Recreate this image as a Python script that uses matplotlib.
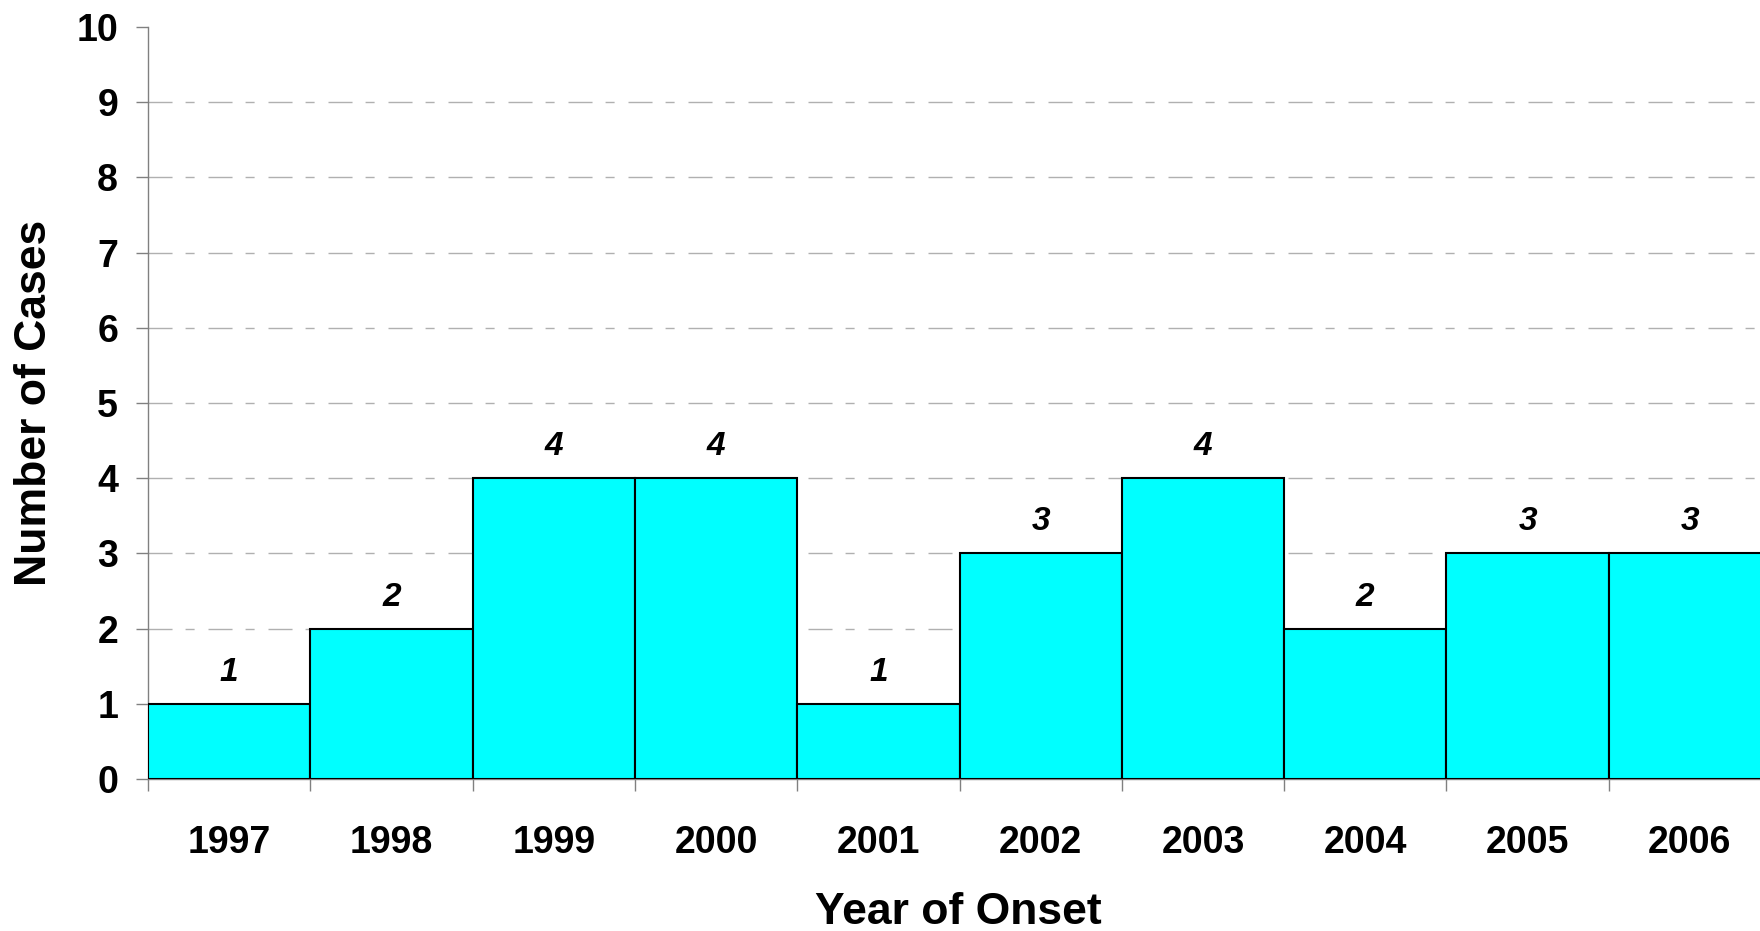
import matplotlib
matplotlib.use("Agg")
import matplotlib.pyplot as plt
import numpy as np

years = ["1997", "1998", "1999", "2000", "2001", "2002", "2003", "2004", "2005", "2006"]
cases = [1, 2, 4, 4, 1, 3, 4, 2, 3, 3]

plt.rcParams['font.family'] = ['Liberation Sans', 'DejaVu Sans']
plt.rcParams['lines.scale_dashes'] = False

fig = plt.figure(figsize=(17.6, 9.31), dpi=100)
ax = fig.add_axes([148/1760, 1 - 779/931, (1771-148)/1760, (779-27)/931])

x = np.arange(len(years))
ax.bar(x, cases, width=1.0, align='edge', color='#00FFFF', edgecolor='black',
       linewidth=1.5, zorder=3)

for xi, v in zip(x, cases):
    ax.annotate(str(v), (xi + 0.5, v), xytext=(0, 16.5), textcoords='offset points',
                ha='center', va='baseline', fontsize=24, fontweight='bold',
                fontstyle='italic', zorder=4)

ax.set_xlim(0, len(years))
ax.set_ylim(0, 10)
ax.set_yticks(range(0, 11))
ax.set_yticklabels([str(i) for i in range(0, 11)], fontsize=27, fontweight='bold')
ax.tick_params(axis='y', direction='out', length=8.6, width=1, color='#808080', pad=13)

ax.set_xticks(np.arange(0, len(years) + 1))
ax.set_xticklabels([])
ax.set_xticks(x + 0.5, minor=True)
ax.set_xticklabels(years, minor=True, fontsize=27, fontweight='bold')
ax.tick_params(axis='x', which='major', direction='out', length=8.6, width=1, color='#808080')
ax.tick_params(axis='x', which='minor', length=0, pad=33)

for s in ['top', 'right']:
    ax.spines[s].set_visible(False)
for s in ['left', 'bottom']:
    ax.spines[s].set_color('#808080')
    ax.spines[s].set_linewidth(1)

for yv in range(1, 10):
    ax.axhline(yv, color='#b0b0b0', linewidth=1, zorder=1,
               linestyle=(0, (17.3, 9.4, 6.5, 10.0)))

fig.text(958/1760, 1 - 924/931, "Year of Onset", ha='center', va='baseline',
         fontsize=32, fontweight='bold')
fig.text(14/1760, 1 - 403/931, "Number of Cases", ha='left', va='center',
         rotation=90, fontsize=32, fontweight='bold')

fig.savefig("out.png", dpi=100)
